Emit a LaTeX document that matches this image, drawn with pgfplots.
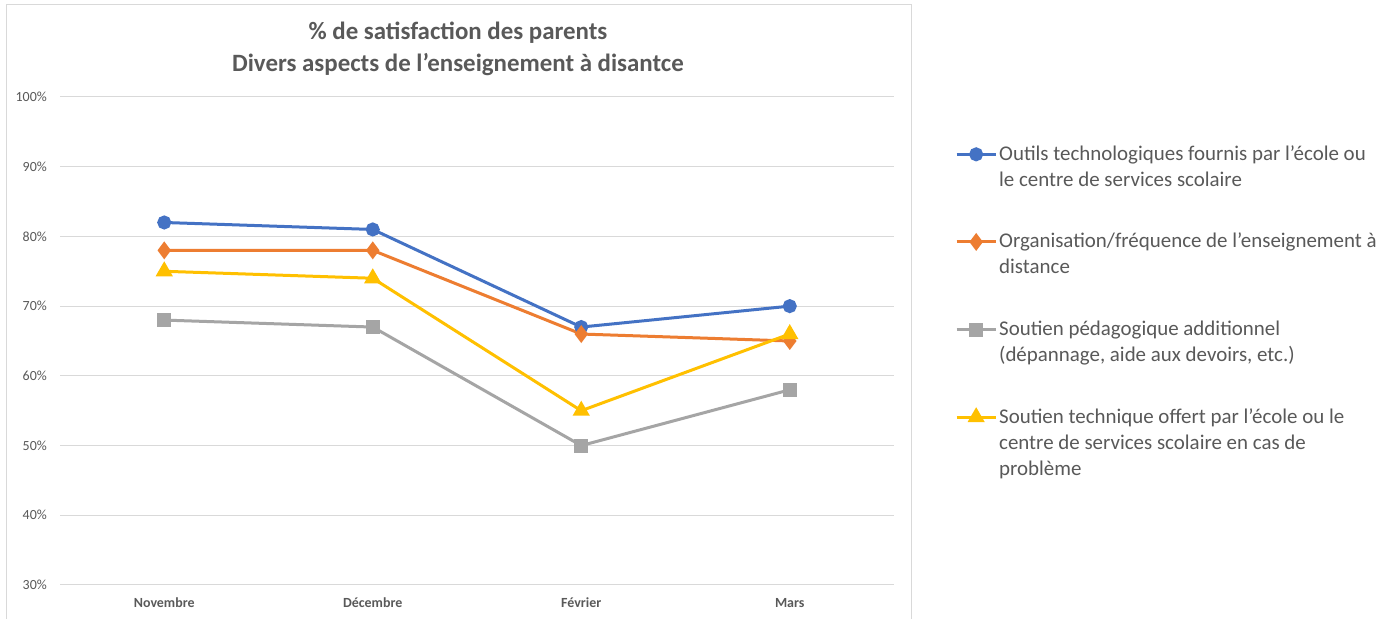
\documentclass[border=0pt]{standalone}
\usepackage{pgfplots}
\pgfplotsset{compat=1.18}
\usepackage{fontspec}
\setmainfont{Carlito}
\definecolor{cblue}{HTML}{4472C4}
\definecolor{corange}{HTML}{ED7D31}
\definecolor{cgray}{HTML}{A5A5A5}
\definecolor{cyellow}{HTML}{FFC000}
\definecolor{txt}{HTML}{595959}
\definecolor{gridc}{HTML}{D9D9D9}
\newcommand{\lentry}[1]{\vtop{#1}}
\begin{document}
\begin{tikzpicture}
\useasboundingbox (0bp,0bp) rectangle (1385bp,619bp);
\fill[white] (0bp,0bp) rectangle (1385bp,619bp);
\draw[gridc, line width=1bp] (6bp,-10bp) rectangle (911bp,614bp);
\node[align=center, text=txt, font=\bfseries\fontsize{25}{32}\selectfont] at (458bp,570bp) {\% de satisfaction des parents\\Divers aspects de l'enseignement à disantce};
\begin{axis}[
  at={(60bp,34bp)}, anchor=south west,
  scale only axis, width=834bp, height=488bp,
  xmin=-0.5, xmax=3.5, ymin=30, ymax=100,
  xtick={0,1,2,3},
  xticklabels={Novembre,Décembre,Février,Mars},
  ytick={30,40,...,100},
  yticklabel={\pgfmathprintnumber{\tick}\%},
  /pgf/number format/assume math mode=true,
  ymajorgrids, xmajorgrids=false, grid style={gridc, line width=1bp},
  axis line style={draw=none},
  major tick length=0pt,
  yticklabel style={font=\fontsize{14}{16}\selectfont, text=txt, inner sep=0pt, xshift=-13bp},
  xticklabel style={font=\bfseries\fontsize{14}{16}\selectfont, text=txt, inner sep=0pt, yshift=-13bp},
  every axis plot/.append style={line width=3bp, mark options={solid, line width=1bp}},
  legend style={at={(1.0731,0.9078)}, anchor=north west, draw=none, fill=none,
    font=\fontsize{21}{26}\selectfont, text=txt, row sep=68bp, column sep=2bp, inner sep=0pt,
    nodes={inner sep=0pt}, cells={anchor=base west}},
  legend image code/.code={\draw[mark repeat=2, mark phase=2] plot coordinates {(0bp,6bp) (19.5bp,6bp) (39bp,6bp)};},
]
\addplot[cblue, mark=*, mark size=5.5bp, mark options={fill=cblue}] coordinates {(0,82) (1,81) (2,67) (3,70)};
\addlegendentry{\lentry{\hbox{\strut Outils technologiques fournis par l'école ou}\hbox{le centre de services scolaire\strut}}}
\addplot[corange, mark=diamond*, mark size=6.5bp, mark options={fill=corange}] coordinates {(0,78) (1,78) (2,66) (3,65)};
\addlegendentry{\lentry{\hbox{\strut Organisation/fréquence de l'enseignement à}\hbox{distance\strut}}}
\addplot[cgray, mark=square*, mark size=5.5bp, mark options={fill=cgray}] coordinates {(0,68) (1,67) (2,50) (3,58)};
\addlegendentry{\lentry{\hbox{\strut Soutien pédagogique additionnel}\hbox{(dépannage, aide aux devoirs, etc.)\strut}}}
\addplot[cyellow, mark=triangle*, mark size=7bp, mark options={fill=cyellow}] coordinates {(0,75) (1,74) (2,55) (3,66)};
\addlegendentry{\lentry{\hbox{\strut Soutien technique offert par l'école ou le}\hbox{centre de services scolaire en cas de}\hbox{problème\strut}}}
\end{axis}
\end{tikzpicture}
\end{document}
